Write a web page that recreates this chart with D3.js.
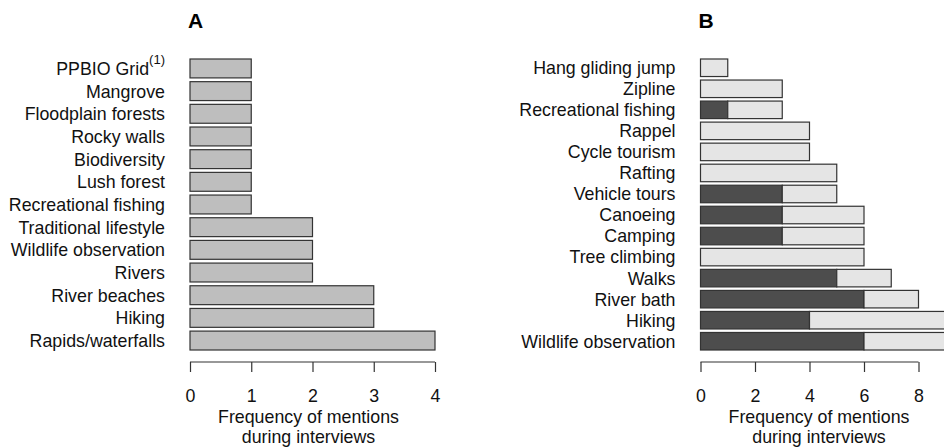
<!DOCTYPE html>
<html>
<head>
<meta charset="utf-8">
<script src="https://cdn.jsdelivr.net/npm/d3@7"></script>
<style>
  body { margin: 0; background: #fff; }
  svg { display: block; font-family: "Liberation Sans", Arial, sans-serif; }
</style>
</head>
<body>
<svg id="chart" width="944" height="447"></svg>
<script>
"use strict";

// Panel A: attributes mentioned (top to bottom)
var attributesA = ["PPBIO Grid", "Mangrove", "Floodplain forests", "Rocky walls", "Biodiversity",
  "Lush forest", "Recreational fishing", "Traditional lifestyle", "Wildlife observation",
  "Rivers", "River beaches", "Hiking", "Rapids/waterfalls"];
var valuesA = [1, 1, 1, 1, 1, 1, 1, 2, 2, 2, 3, 3, 4];
var ticksA = [0, 1, 2, 3, 4];

// Panel B: activities (top to bottom), dark + light segments
var activitiesB = ["Hang gliding jump", "Zipline", "Recreational fishing", "Rappel", "Cycle tourism",
  "Rafting", "Vehicle tours", "Canoeing", "Camping", "Tree climbing", "Walks", "River bath",
  "Hiking", "Wildlife observation"];
var darkB = [0, 0, 1, 0, 0, 0, 3, 3, 3, 0, 5, 6, 4, 6];
var lightB = [1, 3, 2, 4, 4, 5, 2, 3, 3, 6, 2, 2, 6, 4];
var ticksB = [0, 2, 4, 6, 8];

var axisTitle = ["Frequency of mentions", "during interviews"];

var svg = d3.select("#chart");
var fontSize = 17.8;

function panel(opts) {
  var g = svg.append("g");
  var x = d3.scaleLinear().domain(opts.domain).range(opts.xRange);
  var y = d3.scaleBand().domain(opts.labels).range([59, 350]).paddingInner(1 / 6).paddingOuter(0);

  // title letter
  g.append("text").attr("x", opts.xRange[0] - 2).attr("y", 28)
    .attr("font-size", 21).attr("font-weight", "bold").attr("fill", "#000").text(opts.title);

  // bars
  opts.segments.forEach(function (seg) {
    g.append("g").selectAll("rect").data(opts.labels).enter().append("rect")
      .attr("x", function (d, i) { return x(seg.start[i]); })
      .attr("y", function (d) { return y(d); })
      .attr("width", function (d, i) { return x(seg.start[i] + seg.values[i]) - x(seg.start[i]); })
      .attr("height", y.bandwidth())
      .attr("fill", seg.color)
      .attr("stroke", "#333")
      .attr("stroke-width", 1.2)
      .style("display", function (d, i) { return seg.values[i] > 0 ? null : "none"; });
  });

  // category labels
  var lab = g.append("g").selectAll("text").data(opts.labels).enter().append("text")
    .attr("x", opts.xRange[0] - 25)
    .attr("y", function (d) { return y(d) + y.bandwidth() / 2; })
    .attr("dy", "0.36em")
    .attr("text-anchor", "end")
    .attr("font-size", fontSize)
    .attr("fill", "#111");
  lab.each(function (d) {
    var t = d3.select(this);
    t.append("tspan").text(d);
    if (d === "PPBIO Grid") {
      t.append("tspan").attr("font-size", 13).attr("dy", "-0.8em").text("(1)");
    }
  });

  // x axis
  var axis = d3.axisBottom(x).tickValues(opts.ticks).tickSize(10).tickPadding(17).tickFormat(d3.format("d"));
  var ax = g.append("g").attr("transform", "translate(0,362)").call(axis);
  ax.select(".domain").attr("d", "M" + x(opts.ticks[0]) + ",0H" + x(opts.ticks[opts.ticks.length - 1]))
    .attr("stroke", "#333").attr("stroke-width", 1.2);
  ax.selectAll(".tick line").attr("stroke", "#333").attr("stroke-width", 1.2);
  ax.selectAll(".tick text").attr("font-size", fontSize).attr("fill", "#111")
    .attr("font-family", "Liberation Sans, Arial, sans-serif");

  g.append("g").selectAll("text").data(axisTitle).enter().append("text")
    .attr("x", opts.titleX)
    .attr("y", function (d, i) { return 423 + i * 20; })
    .attr("text-anchor", "middle")
    .attr("font-size", fontSize)
    .attr("fill", "#111")
    .text(function (d) { return d; });
}

panel({
  title: "A",
  labels: attributesA,
  domain: [0, 4],
  xRange: [190, 435],
  ticks: ticksA,
  titleX: 308.5,
  segments: [
    { values: valuesA, start: valuesA.map(function () { return 0; }), color: "#bebebe" }
  ]
});

panel({
  title: "B",
  labels: activitiesB,
  domain: [0, 8],
  xRange: [700.5, 918.5],
  ticks: ticksB,
  titleX: 819,
  segments: [
    { values: darkB, start: darkB.map(function () { return 0; }), color: "#4d4d4d" },
    { values: lightB, start: darkB, color: "#e5e5e5" }
  ]
});
</script>
</body>
</html>
